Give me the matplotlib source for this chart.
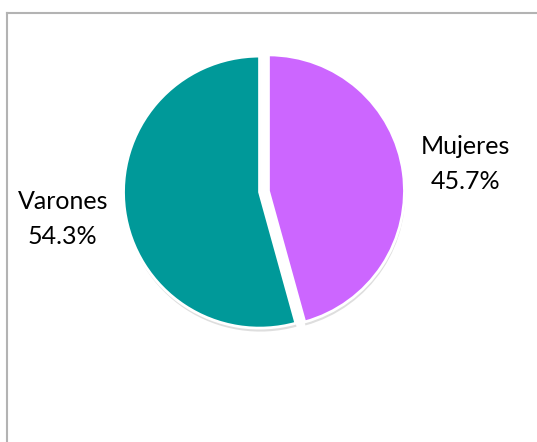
import matplotlib
matplotlib.use("Agg")
import matplotlib.pyplot as plt
from matplotlib.lines import Line2D

categories = ["Mujeres", "Varones"]
values = [45.7, 54.3]
colors = ["#CC66FF", "#009999"]

W, H = 537, 442
fig = plt.figure(figsize=(W / 100, H / 100), dpi=100)
ax = fig.add_axes([0, 0, 1, 1])

labels = [f"{c}\n{v:.1f}%" for c, v in zip(categories, values)]
wedges, texts = ax.pie(
    values,
    labels=labels,
    colors=colors,
    startangle=90,
    counterclock=False,
    explode=[4.5, 4.5],
    radius=136,
    center=(264, H - 191.5),
    labeldistance=1.46,
    wedgeprops=dict(edgecolor="white", linewidth=2),
    shadow=dict(ox=0.5, oy=-2.5, facecolor="#c8c8c8", edgecolor="none", alpha=0.6),
    textprops=dict(fontsize=18, family="Lato", color="black", linespacing=1.6),
    frame=True,
)
ax.set_xlim(0, W)
ax.set_ylim(0, H)
ax.set_aspect("equal")
ax.axis("off")
for t in texts:
    t.set_ha("center")
    t.set_va("center")

# chart border (top and left visible)
fig.add_artist(Line2D([7 / W, 7 / W], [0, 1 - 13 / H], transform=fig.transFigure, color="#b3b3b3", lw=1.5))
fig.add_artist(Line2D([7 / W, 1], [1 - 13 / H, 1 - 13 / H], transform=fig.transFigure, color="#b3b3b3", lw=1.5))

fig.savefig("out.png", dpi=100)
